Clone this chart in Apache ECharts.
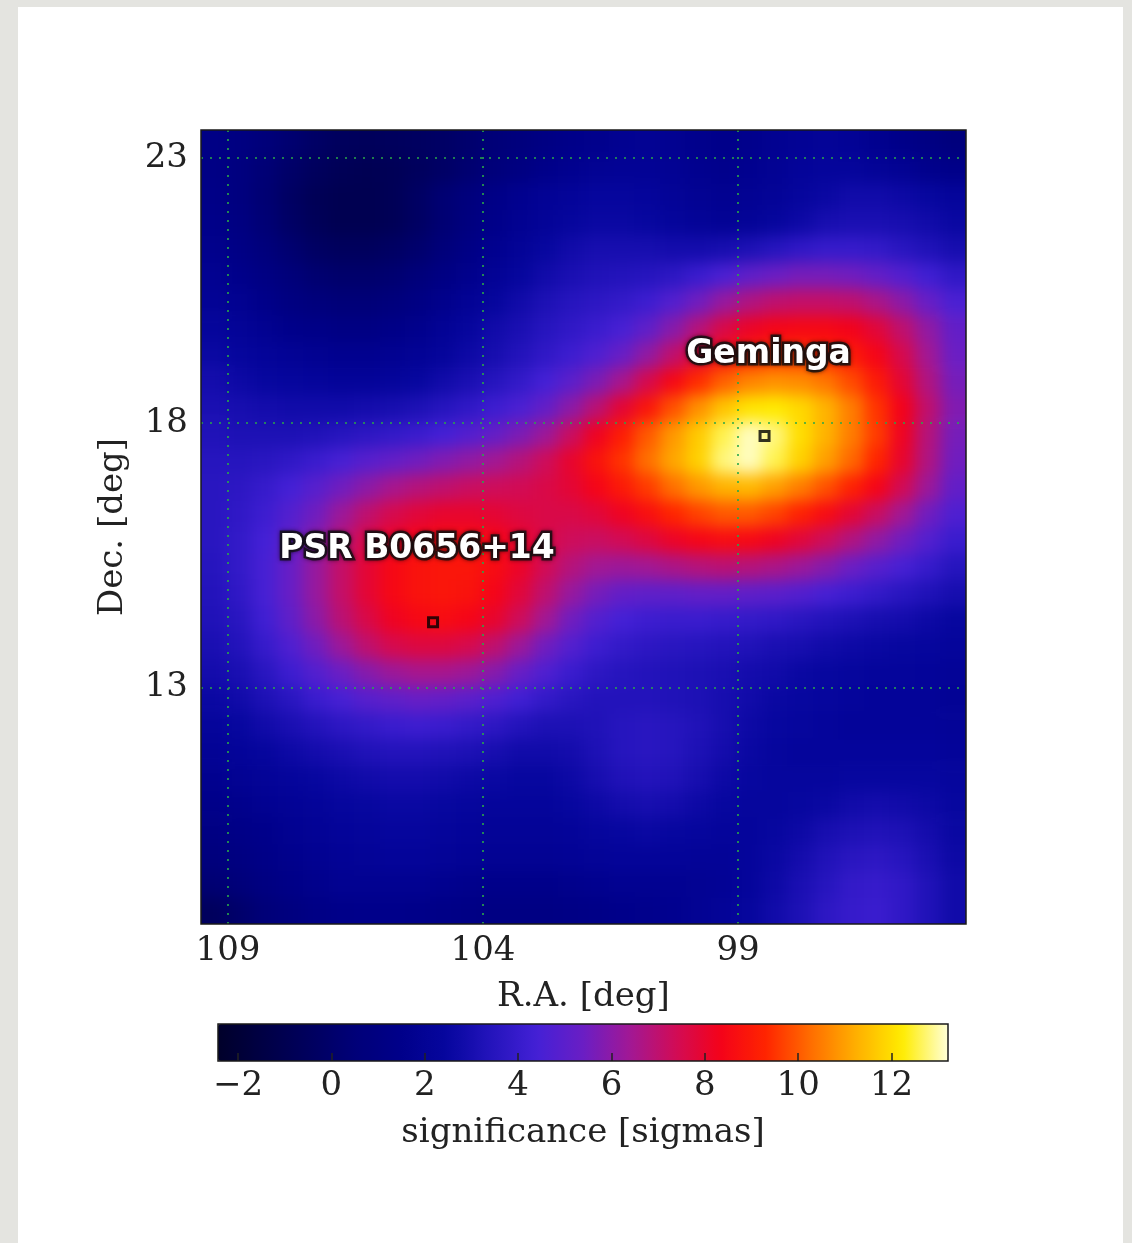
<!DOCTYPE html>
<html>
<head>
<meta charset="utf-8">
<script src="https://cdn.jsdelivr.net/npm/echarts@6/dist/echarts.min.js"></script>
<style>
  html, body { margin: 0; padding: 0; width: 1132px; height: 1243px; background: #e4e4e0; overflow: hidden; }
  #panel { position: absolute; left: 18px; top: 7px; width: 1105px; height: 1236px; background: #ffffff; }
  #heatClip { position: absolute; left: 201px; top: 130px; width: 765px; height: 794px; overflow: hidden; }
  #heat { position: absolute; left: -24px; top: -24px; width: 813px; height: 842px; filter: blur(8px); }
  #chart { position: absolute; left: 0; top: 0; width: 1132px; height: 1243px; }
</style>
</head>
<body>
<div id="panel"></div>
<div id="heatClip"><div id="heat"></div></div>
<div id="chart"></div>
<script>
// ---- data ----
const CELL = 0.5; // map pixel size in degrees
// column centres (R.A., deg), left to right on the map
const RA = [109.28, 108.78, 108.28, 107.78, 107.28, 106.78, 106.28, 105.78, 105.28, 104.78,
            104.28, 103.78, 103.28, 102.78, 102.28, 101.78, 101.28, 100.78, 100.28, 99.78,
            99.28, 98.78, 98.28, 97.78, 97.28, 96.78, 96.28, 95.78, 95.28, 94.78];
// row centres (Dec., deg), top to bottom on the map
const DEC = [23.28, 22.78, 22.28, 21.78, 21.28, 20.78, 20.28, 19.78, 19.28, 18.78,
             18.28, 17.78, 17.28, 16.78, 16.28, 15.78, 15.28, 14.78, 14.28, 13.78,
             13.28, 12.78, 12.28, 11.78, 11.28, 10.78, 10.28, 9.78, 9.28, 8.78];
// significance [sigmas], one row per DEC entry, one column per RA entry
const SIG = [
 [1.2,1.0,0.6,0.2,-0.2,-0.5,-0.6,-0.5,-0.4,-0.2,0.1,0.5,0.8,1.1,1.4,1.6,1.8,1.9,1.8,1.6,1.5,1.6,1.8,2.0,2.1,2.0,1.7,1.4,1.1,0.8],
 [1.2,0.9,0.4,-0.1,-0.5,-0.8,-0.9,-0.8,-0.5,-0.2,0.2,0.6,1.0,1.4,1.7,1.9,2.0,2.0,1.9,1.7,1.6,1.7,1.9,2.2,2.3,2.3,2.1,1.9,1.6,1.4],
 [1.3,0.9,0.3,-0.3,-0.8,-1.0,-1.0,-0.8,-0.3,0.3,0.8,1.3,1.7,2.0,2.2,2.4,2.4,2.3,2.1,1.9,1.8,1.9,2.1,2.4,2.6,2.8,2.8,2.7,2.5,2.3],
 [1.4,1.0,0.4,-0.2,-0.7,-1.0,-1.0,-0.8,-0.3,0.3,0.9,1.4,1.8,2.1,2.4,2.6,2.6,2.5,2.3,2.1,2.0,2.1,2.4,2.7,3.0,3.1,3.1,3.0,2.8,2.6],
 [1.6,1.2,0.7,0.2,-0.3,-0.5,-0.5,-0.3,0.1,0.6,1.2,1.7,2.1,2.5,2.8,3.0,3.0,3.0,2.9,2.9,3.0,3.2,3.5,3.8,4.0,4.0,3.9,3.6,3.3,3.0],
 [1.8,1.5,1.1,0.6,0.2,0.0,0.0,0.2,0.6,1.1,1.6,2.0,2.4,2.8,3.1,3.3,3.4,3.5,3.7,4.1,4.6,5.1,5.4,5.6,5.6,5.5,5.2,4.8,4.3,3.8],
 [2.0,1.8,1.4,1.0,0.7,0.5,0.5,0.7,1.1,1.6,2.0,2.4,2.8,3.2,3.5,3.7,3.9,4.2,4.8,5.5,6.2,6.7,7.0,7.1,7.1,7.0,6.6,6.0,5.3,4.6],
 [2.3,2.1,1.8,1.5,1.3,1.1,1.1,1.3,1.6,2.0,2.4,2.8,3.1,3.5,3.8,4.1,4.5,5.1,5.9,6.8,7.6,8.1,8.4,8.5,8.5,8.3,7.8,7.0,6.1,5.2],
 [2.6,2.4,2.2,2.0,1.8,1.7,1.7,1.8,2.0,2.3,2.7,3.0,3.4,3.8,4.2,4.7,5.3,6.1,7.0,7.9,8.7,9.2,9.5,9.5,9.3,9.0,8.4,7.5,6.4,5.4],
 [2.9,2.7,2.5,2.4,2.3,2.2,2.2,2.3,2.5,2.8,3.1,3.5,3.9,4.4,5.0,5.7,6.5,7.5,8.5,9.4,10.1,10.6,10.8,10.7,10.4,9.8,9.0,7.9,6.7,5.6],
 [3.1,3.0,2.9,2.8,2.8,2.8,2.9,3.0,3.2,3.5,3.8,4.2,4.6,5.2,6.0,6.9,7.9,8.9,9.9,10.8,11.6,12.1,12.2,11.9,11.3,10.5,9.5,8.3,7.0,5.8],
 [3.3,3.2,3.2,3.2,3.3,3.5,3.7,3.9,4.1,4.4,4.8,5.2,5.7,6.3,7.2,8.2,9.1,10.0,10.9,11.7,12.6,13.1,12.8,12.0,11.3,10.5,9.6,8.2,6.8,5.6],
 [3.5,3.5,3.6,3.8,4.1,4.5,4.9,5.2,5.5,5.8,6.1,6.4,6.8,7.3,8.0,8.8,9.5,10.3,11.1,11.8,12.8,13.1,12.6,11.8,11.0,10.2,9.3,8.0,6.7,5.5],
 [3.6,3.7,4.0,4.4,4.9,5.5,6.0,6.5,6.8,7.0,7.2,7.3,7.4,7.6,7.9,8.4,9.0,9.6,10.3,10.9,11.3,11.4,11.0,10.5,9.9,9.2,8.4,7.4,6.3,5.2],
 [3.6,3.8,4.2,4.8,5.5,6.3,7.0,7.5,7.8,8.0,8.0,7.9,7.7,7.6,7.6,7.8,8.2,8.7,9.3,9.7,10.0,10.0,9.7,9.2,8.6,7.9,7.2,6.4,5.5,4.7],
 [3.6,3.9,4.4,5.1,5.9,6.8,7.6,8.1,8.4,8.6,8.6,8.4,8.0,7.6,7.3,7.2,7.4,7.7,8.1,8.4,8.6,8.5,8.2,7.8,7.3,6.7,6.1,5.5,4.8,4.1],
 [3.5,3.9,4.5,5.3,6.2,7.1,7.9,8.5,8.8,8.9,8.9,8.6,8.1,7.4,6.8,6.4,6.3,6.4,6.6,6.8,6.9,6.8,6.6,6.3,5.9,5.4,4.9,4.5,4.0,3.5],
 [3.4,3.8,4.5,5.3,6.2,7.1,7.9,8.5,8.8,8.9,8.8,8.4,7.8,7.0,6.2,5.6,5.2,5.1,5.1,5.2,5.2,5.1,5.0,4.8,4.5,4.2,3.9,3.6,3.3,3.0],
 [3.3,3.6,4.3,5.1,6.0,6.9,7.6,8.2,8.5,8.6,8.4,8.0,7.3,6.4,5.5,4.8,4.4,4.2,4.1,4.1,4.0,3.9,3.8,3.6,3.4,3.2,3.0,2.9,2.7,2.5],
 [3.1,3.4,4.0,4.7,5.5,6.3,7.0,7.5,7.7,7.7,7.5,7.0,6.3,5.5,4.8,4.2,3.9,3.7,3.6,3.5,3.4,3.3,3.1,3.0,2.8,2.7,2.6,2.5,2.4,2.3],
 [2.9,3.1,3.6,4.2,4.8,5.4,5.9,6.3,6.5,6.5,6.3,5.9,5.3,4.7,4.1,3.7,3.5,3.4,3.3,3.2,3.1,2.9,2.8,2.6,2.5,2.4,2.3,2.3,2.2,2.1],
 [2.6,2.8,3.2,3.6,4.1,4.5,4.9,5.1,5.3,5.2,5.0,4.7,4.3,3.9,3.6,3.4,3.4,3.4,3.3,3.2,3.0,2.8,2.6,2.5,2.4,2.3,2.2,2.2,2.1,2.0],
 [2.3,2.5,2.8,3.1,3.4,3.7,3.9,4.1,4.2,4.1,3.9,3.7,3.4,3.2,3.2,3.3,3.5,3.6,3.5,3.3,3.0,2.7,2.5,2.4,2.3,2.2,2.2,2.2,2.2,2.1],
 [2.0,2.2,2.4,2.7,2.9,3.1,3.3,3.4,3.4,3.3,3.2,3.0,2.8,2.8,2.9,3.2,3.5,3.6,3.5,3.2,2.9,2.6,2.4,2.3,2.3,2.3,2.3,2.3,2.3,2.2],
 [1.7,1.9,2.1,2.3,2.5,2.7,2.8,2.9,2.9,2.8,2.7,2.6,2.5,2.5,2.7,3.0,3.3,3.4,3.3,3.0,2.7,2.5,2.4,2.4,2.4,2.5,2.5,2.5,2.5,2.4],
 [1.4,1.6,1.8,2.0,2.2,2.4,2.5,2.6,2.6,2.5,2.4,2.3,2.3,2.3,2.5,2.7,2.9,3.0,2.9,2.7,2.5,2.4,2.4,2.5,2.6,2.8,2.9,2.8,2.7,2.5],
 [1.1,1.3,1.5,1.8,2.0,2.2,2.3,2.4,2.4,2.3,2.2,2.1,2.1,2.1,2.2,2.4,2.5,2.6,2.5,2.4,2.3,2.3,2.5,2.7,3.0,3.2,3.3,3.2,2.9,2.6],
 [0.8,1.0,1.3,1.6,1.8,2.0,2.1,2.2,2.2,2.1,2.0,1.9,1.9,1.9,2.0,2.1,2.2,2.2,2.2,2.1,2.1,2.3,2.6,2.9,3.3,3.6,3.7,3.5,3.1,2.7],
 [0.3,0.6,1.0,1.3,1.6,1.8,1.8,1.8,1.8,1.7,1.6,1.5,1.5,1.5,1.6,1.7,1.8,1.8,1.8,1.9,2.0,2.3,2.7,3.1,3.5,3.9,4.0,3.8,3.3,2.8],
 [-0.5,0.0,0.5,0.9,1.2,1.4,1.5,1.5,1.4,1.3,1.2,1.1,1.1,1.1,1.2,1.3,1.5,1.6,1.7,1.9,2.1,2.4,2.8,3.2,3.7,4.0,4.1,3.8,3.3,2.8]
];
// point sources
const SRC_NAMES = ['Geminga', 'PSR B0656+14'];
const SRC_RA = [98.48, 104.98];
const SRC_DEC = [17.75, 14.23];
// axis ticks
const RA_TICKS = [109, 104, 99];
const DEC_TICKS = [13, 18, 23];
const CB_TICKS = [-2, 0, 2, 4, 6, 8, 10, 12];
const RA_RANGE = [94.53, 109.53];
const DEC_RANGE = [8.53, 23.53];
const SIG_RANGE = [-2.43, 13.21];
const CMAP = ['#00002a', '#000045', '#00005e', '#000078', '#00008a', '#06069e', '#2414bc', '#4420d6',
              '#6a1ec4', '#a01896', '#d00c58', '#f4021a', '#ff2400', '#ff6e00', '#ffb000', '#ffec00', '#ffffd8'];

// ---- build ----
const cells = [];
for (let i = 0; i < DEC.length; i++) {
  for (let j = 0; j < RA.length; j++) {
    cells.push([RA[j], DEC[i], SIG[i][j]]);
  }
}
const srcData = SRC_NAMES.map((n, k) => ({ name: n, value: [SRC_RA[k], SRC_DEC[k]] }));

// ---- map layer (smoothed display of the significance cells) ----
const EDGE = 24;
const heat = echarts.init(document.getElementById('heat'), null, { renderer: 'canvas' });
heat.setOption({
  animation: false,
  grid: { left: EDGE, top: EDGE, width: 765, height: 794, show: false },
  xAxis: { type: 'value', inverse: true, min: RA_RANGE[0], max: RA_RANGE[1], show: false },
  yAxis: { type: 'value', min: DEC_RANGE[0], max: DEC_RANGE[1], show: false },
  visualMap: { type: 'continuous', show: false, seriesIndex: 0, dimension: 2,
               min: SIG_RANGE[0], max: SIG_RANGE[1], inRange: { color: CMAP } },
  series: [{
    type: 'custom', encode: { x: 0, y: 1 }, data: cells, clip: false, silent: true,
    renderItem: function (params, api) {
      const idx = params.dataIndex;
      const i = Math.floor(idx / RA.length), j = idx % RA.length;
      const ra = api.value(0), dec = api.value(1);
      const p0 = api.coord([ra + CELL / 2, dec + CELL / 2]);
      const p1 = api.coord([ra - CELL / 2, dec - CELL / 2]);
      let x0 = Math.min(p0[0], p1[0]), x1 = Math.max(p0[0], p1[0]) + 0.6;
      let y0 = Math.min(p0[1], p1[1]), y1 = Math.max(p0[1], p1[1]) + 0.6;
      if (j === 0) x0 -= EDGE;
      if (j === RA.length - 1) x1 += EDGE;
      if (i === 0) y0 -= EDGE;
      if (i === DEC.length - 1) y1 += EDGE;
      return { type: 'rect', shape: { x: x0, y: y0, width: x1 - x0, height: y1 - y0 },
               style: { fill: api.visual('color') } };
    }
  }]
});

// ---- axes, labels, colour bar ----
const SERIF = '"DejaVu Serif", serif';
const LABEL_FONT = { fontFamily: '"DejaVu Sans", sans-serif', fontWeight: 'bold', fontSize: 33 };
const labelShift = function (p) {
  return p.dataIndex === 0 ? { dx: 4, dy: -82 } : { dx: -16, dy: -73 };
};
const chart = echarts.init(document.getElementById('chart'), null, { renderer: 'canvas' });
chart.setOption({
  animation: false,
  backgroundColor: 'transparent',
  grid: [
    { left: 201, top: 130, width: 765, height: 794, show: false },
    { left: 218, top: 1024, width: 730, height: 37, show: false }
  ],
  xAxis: [
    {
      gridIndex: 0, type: 'value', inverse: true, min: RA_RANGE[0], max: RA_RANGE[1], z: 5,
      name: 'R.A. [deg]', nameLocation: 'middle', nameGap: 56,
      nameTextStyle: { fontFamily: SERIF, fontSize: 34, color: '#222' },
      axisLine: { show: false },
      axisTick: { show: false, customValues: RA_TICKS },
      axisLabel: { customValues: RA_TICKS, fontFamily: SERIF, fontSize: 34, color: '#222', margin: 10 },
      splitLine: { show: true, lineStyle: { color: '#2aa84a', width: 1.6, type: [2, 7] } }
    },
    {
      gridIndex: 1, type: 'value', min: SIG_RANGE[0], max: SIG_RANGE[1], z: 5,
      name: 'significance [sigmas]', nameLocation: 'middle', nameGap: 55,
      nameTextStyle: { fontFamily: SERIF, fontSize: 34, color: '#222' },
      axisLine: { show: false },
      axisTick: { show: true, inside: true, length: 8, customValues: CB_TICKS, lineStyle: { color: '#222', width: 1.5 } },
      axisLabel: { customValues: CB_TICKS, fontFamily: SERIF, fontSize: 34, color: '#222', margin: 8,
                   formatter: v => (v < 0 ? '\u2212' + Math.abs(v) : String(v)) },
      splitLine: { show: false }
    }
  ],
  yAxis: [
    {
      gridIndex: 0, type: 'value', min: DEC_RANGE[0], max: DEC_RANGE[1], z: 5,
      name: 'Dec. [deg]', nameLocation: 'middle', nameGap: 71, nameRotate: 90,
      nameTextStyle: { fontFamily: SERIF, fontSize: 34, color: '#222' },
      axisLine: { show: false },
      axisTick: { show: false, customValues: DEC_TICKS },
      axisLabel: { customValues: DEC_TICKS, fontFamily: SERIF, fontSize: 34, color: '#222', margin: 13 },
      splitLine: { show: true, lineStyle: { color: '#2aa84a', width: 1.6, type: [2, 7] } }
    },
    { gridIndex: 1, type: 'value', min: 0, max: 1, show: false }
  ],
  visualMap: {
    type: 'continuous', seriesIndex: [], dimension: 2,
    min: SIG_RANGE[0], max: SIG_RANGE[1],
    orient: 'horizontal', left: 218, top: 1024, padding: 0,
    itemWidth: 37, itemHeight: 730, text: null, calculable: false, hoverLink: false,
    showLabel: false,
    inRange: { color: CMAP }
  },
  series: [
    {
      // source markers + dark outline of their names
      type: 'scatter', xAxisIndex: 0, yAxisIndex: 0, z: 10,
      symbol: 'rect', symbolSize: 9,
      itemStyle: { color: 'rgba(0,0,0,0)', borderColor: '#000', borderWidth: 3 },
      data: srcData,
      label: Object.assign({
        show: true, formatter: '{b}', position: 'inside',
        color: '#111', textBorderColor: '#111', textBorderWidth: 5,
        textShadowColor: 'rgba(0,0,0,0.6)', textShadowBlur: 4
      }, LABEL_FONT),
      labelLayout: labelShift
    },
    {
      // white fill of the names
      type: 'scatter', xAxisIndex: 0, yAxisIndex: 0, z: 11,
      symbol: 'circle', symbolSize: 1,
      itemStyle: { color: 'rgba(0,0,0,0)', borderWidth: 0 }, silent: true,
      data: srcData,
      label: Object.assign({
        show: true, formatter: '{b}', position: 'inside', color: '#ffffff', opacity: 1
      }, LABEL_FONT),
      labelLayout: labelShift
    }
  ],
  graphic: [
    { type: 'rect', z: 100, shape: { x: 201, y: 130, width: 765, height: 794 },
      style: { fill: 'none', stroke: '#1a1a1a', lineWidth: 1.5 } },
    { type: 'rect', z: 100, shape: { x: 218, y: 1024, width: 730, height: 37 },
      style: { fill: 'none', stroke: '#1a1a1a', lineWidth: 1.5 } }
  ]
});
</script>
</body>
</html>
